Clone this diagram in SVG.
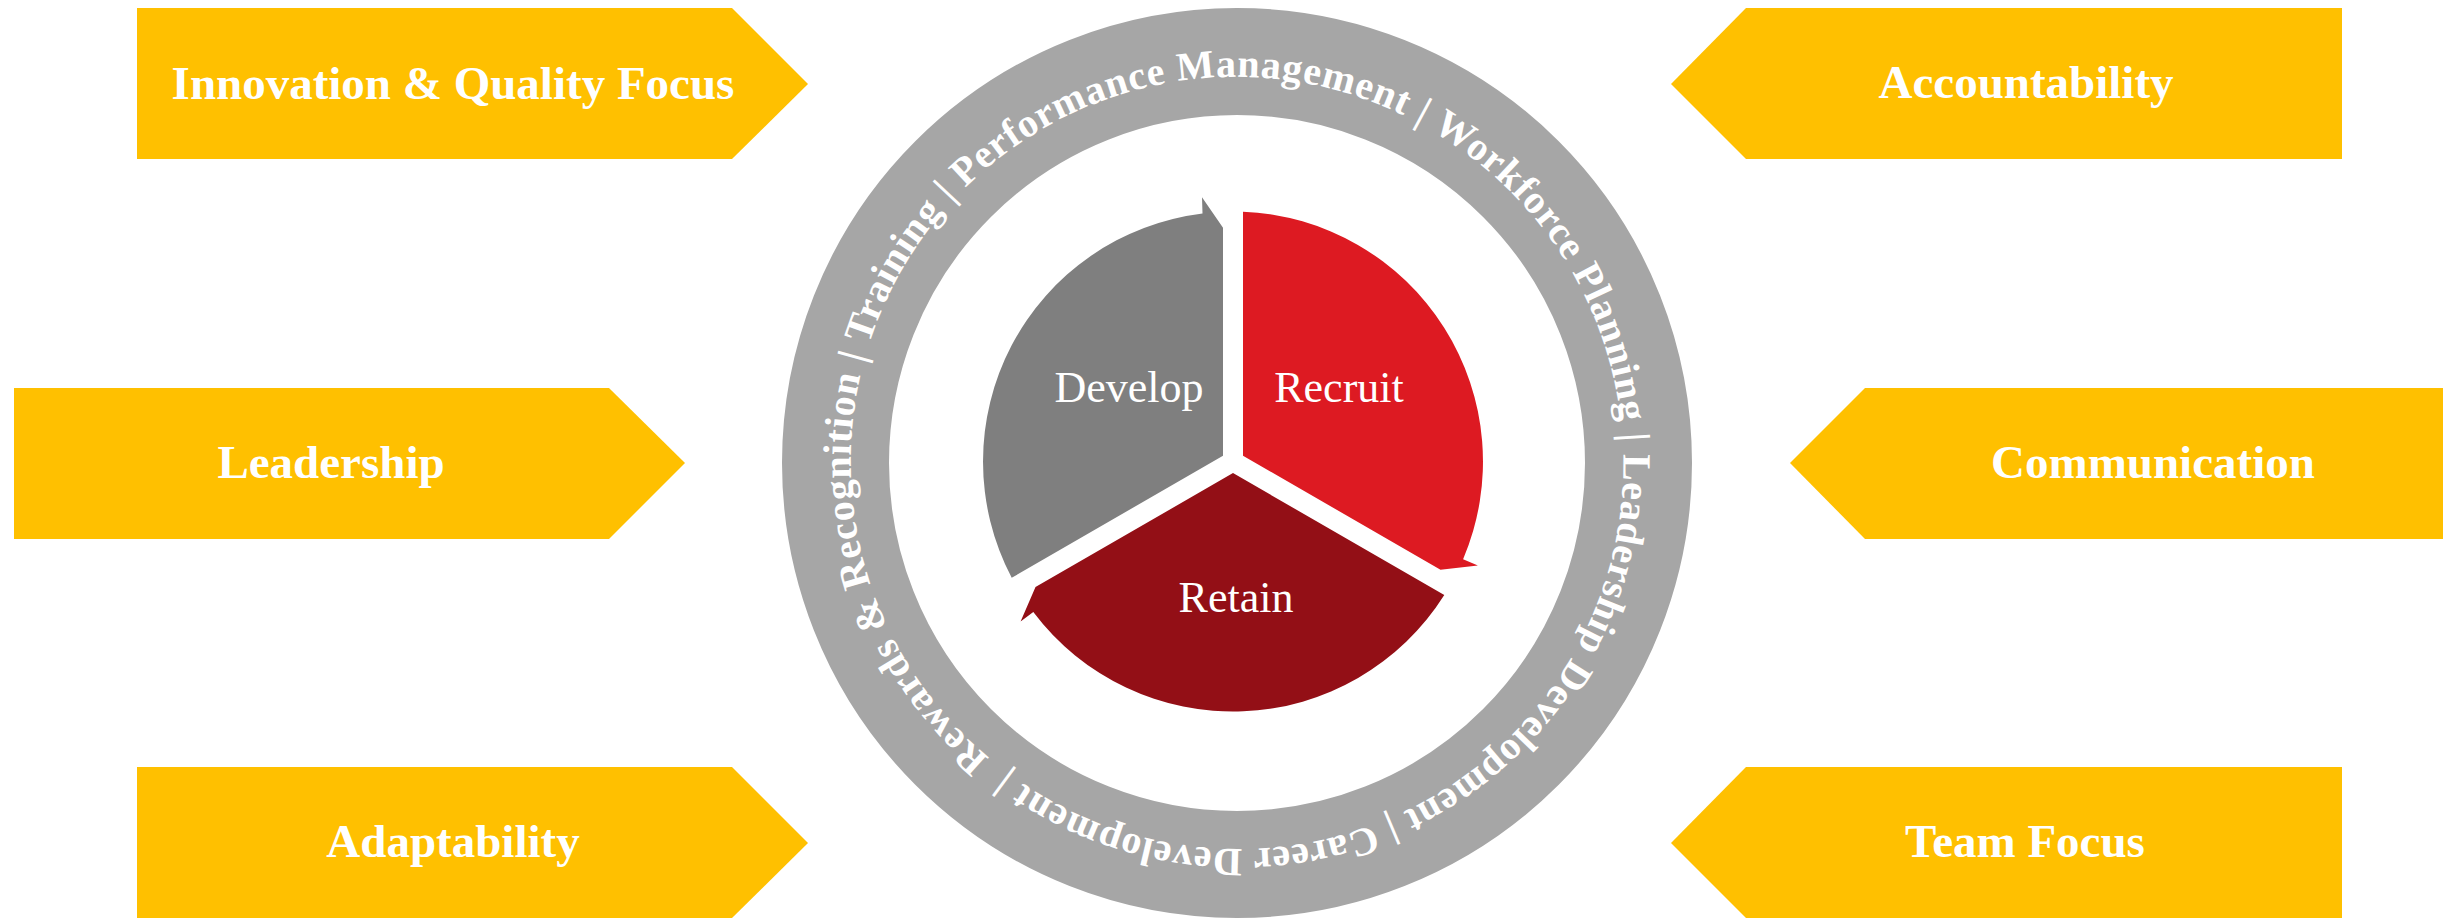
<svg xmlns="http://www.w3.org/2000/svg" width="2443" height="919" viewBox="0 0 2443 919">
  <style>
    .box { fill: #FFC000; }
    .boxtxt { font-family: "Liberation Serif", "Times New Roman", serif; font-weight: bold; font-size: 47px; fill: #FFFFFF; text-anchor: middle; }
    .pietxt { font-family: "Liberation Serif", "Times New Roman", serif; font-size: 44px; fill: #FFFFFF; text-anchor: middle; }
    .ringtxt { font-family: "Liberation Serif", "Times New Roman", serif; font-weight: bold; font-size: 40px; fill: #FFFFFF; letter-spacing: 0.8px; }
  </style>
  <defs>
    <path id="ringPath" d="M 989.5 757.9 A 385 385 0 1 1 1484.5 168.1 A 385 385 0 1 1 989.5 757.9"/>
  </defs>
  <rect width="2443" height="919" fill="#FFFFFF"/>

  <g id="ring">
    <circle cx="1237" cy="463" r="401.5" fill="none" stroke="#A6A6A6" stroke-width="107"/>
    <text class="ringtxt"><textPath href="#ringPath">Rewards &amp; Recognition | Training | Performance Management | Workforce Planning | Leadership Development | Career Development |</textPath></text>
  </g>

  <g id="develop">
    <path fill="#7F7F7F" d="M 1223 455.7 L 1011.7 577.8 A 250 250 0 0 1 1202.5 213.4 L 1202 197.3 L 1223 227.7 Z"/>
    <text class="pietxt" x="1129" y="402">Develop</text>
  </g>
  <g id="recruit">
    <path fill="#DD1A22" d="M 1243 455.7 L 1243 211.7 A 250 250 0 0 1 1463.1 559.2 L 1477.9 565.4 L 1440.5 569.7 Z"/>
    <text class="pietxt" x="1339" y="402">Recruit</text>
  </g>
  <g id="retain">
    <path fill="#930F16" d="M 1233 473.05 L 1444.3 595.1 A 250 250 0 0 1 1033.3 612 L 1020.6 621.6 L 1035.5 587.1 Z"/>
    <text class="pietxt" x="1236" y="612">Retain</text>
  </g>

  <g id="innovation">
    <polygon class="box" points="137,8 732,8 808,84 732,159 137,159"/>
    <text class="boxtxt" x="453" y="99">Innovation &amp; Quality Focus</text>
  </g>
  <g id="accountability">
    <polygon class="box" points="1671,84 1746,8 2342,8 2342,159 1746,159"/>
    <text class="boxtxt" x="2026" y="98">Accountability</text>
  </g>
  <g id="leadership">
    <polygon class="box" points="14,388 609,388 685,463 609,539 14,539"/>
    <text class="boxtxt" x="331" y="478">Leadership</text>
  </g>
  <g id="communication">
    <polygon class="box" points="1790,463 1865,388 2443,388 2443,539 1865,539"/>
    <text class="boxtxt" x="2153" y="478">Communication</text>
  </g>
  <g id="adaptability">
    <polygon class="box" points="137,767 732,767 808,843 732,918 137,918"/>
    <text class="boxtxt" x="453" y="857">Adaptability</text>
  </g>
  <g id="teamfocus">
    <polygon class="box" points="1671,843 1746,767 2342,767 2342,918 1746,918"/>
    <text class="boxtxt" x="2025" y="857">Team Focus</text>
  </g>

  <g id="connectors"/>
</svg>
